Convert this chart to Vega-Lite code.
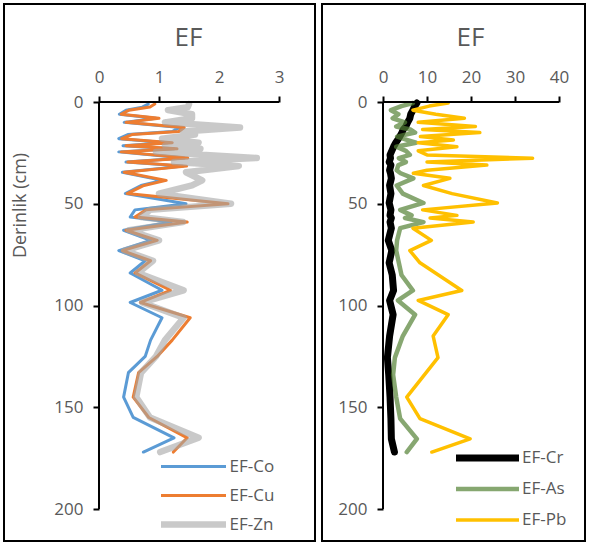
{
  "$schema": "https://vega.github.io/schema/vega-lite/v6.json",
  "background": "white",
  "padding": {"left": 3, "top": 3, "right": 0, "bottom": 0},
  "spacing": 5,
  "config": {
    "font": "Open Sans",
    "view": {"stroke": "black", "strokeWidth": 2},
    "axis": {"grid": false, "domain": false, "tickColor": "black", "tickWidth": 2, "tickSize": 6, "labelFont": "Open Sans", "labelFontSize": 17, "labelColor": "#595959", "labelPadding": 10, "format": "d"},
    "legend": {"labelFont": "Open Sans", "labelFontSize": 17, "labelColor": "#595959", "symbolType": "stroke", "padding": 0, "title": null, "orient": "none"},
    "title": {"font": "Open Sans", "fontSize": 26, "fontWeight": "normal", "color": "#595959", "anchor": "middle", "frame": "group", "offset": -47}
  },
  "datasets": {
    "left": [
      {"depth": 1, "EF-Co": 0.82, "EF-Cu": 0.93, "EF-Zn": 1.5},
      {"depth": 2.5, "EF-Co": 0.72, "EF-Cu": 0.85, "EF-Zn": 1.48},
      {"depth": 4, "EF-Co": 0.45, "EF-Cu": 0.5, "EF-Zn": 1.15},
      {"depth": 6, "EF-Co": 0.34, "EF-Cu": 0.37, "EF-Zn": 1.55},
      {"depth": 8, "EF-Co": 0.95, "EF-Cu": 1.0, "EF-Zn": 1.55},
      {"depth": 10, "EF-Co": 0.42, "EF-Cu": 0.45, "EF-Zn": 1.1},
      {"depth": 12.5, "EF-Co": 1.35, "EF-Cu": 1.42, "EF-Zn": 2.35},
      {"depth": 14.5, "EF-Co": 1.22, "EF-Cu": 1.33, "EF-Zn": 1.4},
      {"depth": 16, "EF-Co": 0.48, "EF-Cu": 0.55, "EF-Zn": 1.6},
      {"depth": 18, "EF-Co": 0.33, "EF-Cu": 0.38, "EF-Zn": 1.05},
      {"depth": 20, "EF-Co": 1.15, "EF-Cu": 1.22, "EF-Zn": 1.66},
      {"depth": 21.5, "EF-Co": 0.4, "EF-Cu": 0.45, "EF-Zn": 1.1},
      {"depth": 23, "EF-Co": 1.25, "EF-Cu": 1.3, "EF-Zn": 1.69},
      {"depth": 24.5, "EF-Co": 0.33, "EF-Cu": 0.37, "EF-Zn": 0.95},
      {"depth": 27.5, "EF-Co": 1.42, "EF-Cu": 1.48, "EF-Zn": 2.63},
      {"depth": 29.5, "EF-Co": 0.45, "EF-Cu": 0.48, "EF-Zn": 1.25},
      {"depth": 31.5, "EF-Co": 1.4, "EF-Cu": 1.46, "EF-Zn": 2.33},
      {"depth": 34.5, "EF-Co": 0.39, "EF-Cu": 0.42, "EF-Zn": 1.45},
      {"depth": 38.5, "EF-Co": 1.05, "EF-Cu": 1.12, "EF-Zn": 1.72},
      {"depth": 41, "EF-Co": 0.7, "EF-Cu": 0.75, "EF-Zn": 1.55},
      {"depth": 45, "EF-Co": 0.44, "EF-Cu": 0.47, "EF-Zn": 1.0},
      {"depth": 50, "EF-Co": 1.45, "EF-Cu": 2.15, "EF-Zn": 2.2},
      {"depth": 53, "EF-Co": 0.6, "EF-Cu": 0.78, "EF-Zn": 0.85},
      {"depth": 56.5, "EF-Co": 0.52, "EF-Cu": 0.6, "EF-Zn": 0.7},
      {"depth": 59, "EF-Co": 1.2, "EF-Cu": 1.47, "EF-Zn": 1.4},
      {"depth": 63, "EF-Co": 0.41, "EF-Cu": 0.45, "EF-Zn": 0.5},
      {"depth": 68, "EF-Co": 0.86, "EF-Cu": 0.97, "EF-Zn": 1.0},
      {"depth": 73, "EF-Co": 0.33, "EF-Cu": 0.39, "EF-Zn": 0.42},
      {"depth": 78, "EF-Co": 0.77, "EF-Cu": 0.86, "EF-Zn": 0.9},
      {"depth": 84, "EF-Co": 0.52, "EF-Cu": 0.6, "EF-Zn": 0.65},
      {"depth": 92.5, "EF-Co": 1.05, "EF-Cu": 1.19, "EF-Zn": 1.41},
      {"depth": 98.5, "EF-Co": 0.52, "EF-Cu": 0.69, "EF-Zn": 0.72},
      {"depth": 106, "EF-Co": 1.05, "EF-Cu": 1.52, "EF-Zn": 1.41},
      {"depth": 117, "EF-Co": 0.86, "EF-Cu": 1.22, "EF-Zn": 1.1},
      {"depth": 125, "EF-Co": 0.77, "EF-Cu": 0.97, "EF-Zn": 0.95},
      {"depth": 133, "EF-Co": 0.49, "EF-Cu": 0.66, "EF-Zn": 0.7},
      {"depth": 145, "EF-Co": 0.41, "EF-Cu": 0.57, "EF-Zn": 0.62},
      {"depth": 155, "EF-Co": 0.57, "EF-Cu": 0.83, "EF-Zn": 0.85},
      {"depth": 165, "EF-Co": 1.25, "EF-Cu": 1.47, "EF-Zn": 1.66},
      {"depth": 172, "EF-Co": 0.74, "EF-Cu": 1.24, "EF-Zn": 1.02}
    ],
    "right": [
      {"depth": 0.5, "EF-Cr": 7.7, "EF-As": 6.8, "EF-Pb": 14.8},
      {"depth": 2, "EF-Cr": 7.2, "EF-As": 4.2, "EF-Pb": 10.5},
      {"depth": 4, "EF-Cr": 6.8, "EF-As": 1.8, "EF-Pb": 6.8},
      {"depth": 6, "EF-Cr": 6.3, "EF-As": 3.5, "EF-Pb": 12.0},
      {"depth": 8, "EF-Cr": 6.1, "EF-As": 2.2, "EF-Pb": 18.5},
      {"depth": 10, "EF-Cr": 5.6, "EF-As": 5.0, "EF-Pb": 8.0},
      {"depth": 12, "EF-Cr": 5.2, "EF-As": 3.0, "EF-Pb": 21.0},
      {"depth": 13.5, "EF-Cr": 4.6, "EF-As": 6.2, "EF-Pb": 9.0},
      {"depth": 15, "EF-Cr": 4.3, "EF-As": 7.3, "EF-Pb": 22.0},
      {"depth": 17, "EF-Cr": 3.8, "EF-As": 3.2, "EF-Pb": 8.5},
      {"depth": 18.7, "EF-Cr": 3.3, "EF-As": 5.6, "EF-Pb": 16.0},
      {"depth": 20, "EF-Cr": 2.9, "EF-As": 7.5, "EF-Pb": 8.0},
      {"depth": 22, "EF-Cr": 2.4, "EF-As": 3.0, "EF-Pb": 16.8},
      {"depth": 24, "EF-Cr": 2.0, "EF-As": 5.2, "EF-Pb": 8.0},
      {"depth": 26, "EF-Cr": 1.6, "EF-As": 6.1, "EF-Pb": 10.0},
      {"depth": 27.6, "EF-Cr": 1.7, "EF-As": 3.6, "EF-Pb": 34.0},
      {"depth": 29.5, "EF-Cr": 1.4, "EF-As": 5.2, "EF-Pb": 10.0},
      {"depth": 31, "EF-Cr": 1.8, "EF-As": 3.5, "EF-Pb": 23.6},
      {"depth": 33.5, "EF-Cr": 1.5, "EF-As": 3.1, "EF-Pb": 10.0},
      {"depth": 35, "EF-Cr": 1.7, "EF-As": 4.0, "EF-Pb": 6.9},
      {"depth": 37.5, "EF-Cr": 1.9, "EF-As": 6.9, "EF-Pb": 15.2},
      {"depth": 41, "EF-Cr": 1.5, "EF-As": 3.1, "EF-Pb": 9.2},
      {"depth": 45, "EF-Cr": 1.8, "EF-As": 4.5, "EF-Pb": 15.7},
      {"depth": 49.6, "EF-Cr": 1.4, "EF-As": 9.2, "EF-Pb": 26.0},
      {"depth": 53, "EF-Cr": 1.8, "EF-As": 3.9, "EF-Pb": 9.0},
      {"depth": 55.7, "EF-Cr": 1.6, "EF-As": 6.5, "EF-Pb": 16.8},
      {"depth": 57, "EF-Cr": 1.9, "EF-As": 5.0, "EF-Pb": 10.7},
      {"depth": 59, "EF-Cr": 1.6, "EF-As": 9.2, "EF-Pb": 20.5},
      {"depth": 62, "EF-Cr": 1.9, "EF-As": 3.9, "EF-Pb": 6.8},
      {"depth": 68, "EF-Cr": 1.2, "EF-As": 3.2, "EF-Pb": 11.0},
      {"depth": 73, "EF-Cr": 2.0, "EF-As": 3.0, "EF-Pb": 6.1},
      {"depth": 79, "EF-Cr": 1.4, "EF-As": 3.6, "EF-Pb": 8.4},
      {"depth": 85, "EF-Cr": 2.1, "EF-As": 4.2, "EF-Pb": null},
      {"depth": 92.6, "EF-Cr": 2.4, "EF-As": 6.8, "EF-Pb": 17.9},
      {"depth": 97.5, "EF-Cr": 1.5, "EF-As": 3.4, "EF-Pb": 8.0},
      {"depth": 104.5, "EF-Cr": 2.3, "EF-As": 7.3, "EF-Pb": 14.8},
      {"depth": 115, "EF-Cr": 1.5, "EF-As": 4.5, "EF-Pb": 11.4},
      {"depth": 125.6, "EF-Cr": 1.0, "EF-As": 2.7, "EF-Pb": 12.5},
      {"depth": 134, "EF-Cr": 1.3, "EF-As": 2.3, "EF-Pb": null},
      {"depth": 145, "EF-Cr": 1.6, "EF-As": 3.0, "EF-Pb": 5.4},
      {"depth": 155.6, "EF-Cr": 1.8, "EF-As": 3.9, "EF-Pb": 8.4},
      {"depth": 165.5, "EF-Cr": 1.9, "EF-As": 7.7, "EF-Pb": 19.8},
      {"depth": 172, "EF-Cr": 2.6, "EF-As": 5.4, "EF-Pb": 11.1}
    ]
  },
  "resolve": {"scale": {"color": "independent", "x": "independent", "y": "independent"}, "legend": {"color": "independent"}},
  "hconcat": [
    {
      "width": 311,
      "height": 537,
      "title": {"text": "EF", "dx": 29},
      "layer": [
        {
          "data": {"name": "left"},
          "transform": [
            {"fold": ["EF-Co", "EF-Cu", "EF-Zn"], "as": ["series", "value"]},
            {"filter": "datum.value != null"}
          ],
          "mark": {"type": "line", "strokeJoin": "round", "strokeCap": "round"},
          "encoding": {
            "x": {"field": "value", "type": "quantitative", "scale": {"domain": [-1.5833, 3.6], "nice": false, "zero": false},
                  "axis": {"orient": "top", "offset": -98, "values": [0, 1, 2, 3], "title": null}},
            "y": {"field": "depth", "type": "quantitative", "scale": {"domain": [-48.16, 215.7], "nice": false, "zero": false, "reverse": true},
                  "axis": {"orient": "left", "offset": -95, "values": [0, 50, 100, 150, 200], "title": "Derinlik (cm)",
                           "titleFont": "Open Sans", "titleFontSize": 18, "titleFontWeight": "normal", "titleColor": "#595959",
                           "titleX": -79, "titleY": 201, "titleAngle": -90, "titleAlign": "center", "titleBaseline": "middle"}},
            "order": {"field": "depth", "type": "quantitative"},
            "color": {"field": "series", "type": "nominal",
                      "scale": {"domain": ["EF-Co", "EF-Cu", "EF-Zn"], "range": ["#5B9BD5", "#ED7D31", "#A5A5A5"]},
                      "legend": {"legendX": 155.5, "legendY": 449, "clipHeight": 27, "rowPadding": 2, "labelOffset": 2, "symbolSize": 4225,
                                 "symbolStrokeWidth": {"expr": "(datum.value === 'EF-Zn' ? 6.5 : 3)"},
                                 "symbolOpacity": {"expr": "(datum.value === 'EF-Zn' ? 0.6 : 1)"}}},
            "strokeWidth": {"condition": {"test": "datum.series === 'EF-Zn'", "value": 6.5}, "value": 3},
            "opacity": {"condition": {"test": "datum.series === 'EF-Zn'", "value": 0.6}, "value": 1}
          }
        },
        {
          "data": {"values": [{}]},
          "mark": {"type": "rule", "color": "black", "strokeWidth": 2},
          "encoding": {"x": {"datum": 0}, "x2": {"datum": 3}, "y": {"datum": 0}}
        },
        {
          "data": {"values": [{}]},
          "mark": {"type": "rule", "color": "black", "strokeWidth": 2},
          "encoding": {"x": {"datum": 0}, "y": {"datum": 0}, "y2": {"datum": 200}}
        }
      ]
    },
    {
      "width": 263,
      "height": 537,
      "title": {"text": "EF", "dx": 17},
      "layer": [
        {
          "data": {"name": "right"},
          "transform": [
            {"fold": ["EF-Cr", "EF-As", "EF-Pb"], "as": ["series", "value"]},
            {"filter": "datum.value != null"}
          ],
          "mark": {"type": "line", "strokeJoin": "round", "strokeCap": "round"},
          "encoding": {
            "x": {"field": "value", "type": "quantitative", "scale": {"domain": [-13.864, 45.909], "nice": false, "zero": false},
                  "axis": {"orient": "top", "offset": -98, "values": [0, 10, 20, 30, 40], "title": null}},
            "y": {"field": "depth", "type": "quantitative", "scale": {"domain": [-48.16, 215.7], "nice": false, "zero": false, "reverse": true},
                  "axis": {"orient": "left", "offset": -61, "values": [0, 50, 100, 150, 200], "title": null}},
            "order": {"field": "depth", "type": "quantitative"},
            "color": {"field": "series", "type": "nominal",
                      "scale": {"domain": ["EF-Cr", "EF-As", "EF-Pb"], "range": ["#000000", "#548235", "#FFC000"]},
                      "legend": {"legendX": 132, "legendY": 440, "clipHeight": 28, "rowPadding": 3, "labelOffset": 1, "symbolSize": 3969,
                                 "symbolStrokeWidth": {"expr": "(datum.value === 'EF-Cr' ? 7 : datum.value === 'EF-As' ? 4.5 : 3.5)"},
                                 "symbolOpacity": {"expr": "(datum.value === 'EF-As' ? 0.7 : 1)"}}},
            "strokeWidth": {"condition": [{"test": "datum.series === 'EF-Cr'", "value": 7}, {"test": "datum.series === 'EF-As'", "value": 4.5}], "value": 3.5},
            "opacity": {"condition": {"test": "datum.series === 'EF-As'", "value": 0.7}, "value": 1}
          }
        },
        {
          "data": {"values": [{}]},
          "mark": {"type": "rule", "color": "black", "strokeWidth": 2},
          "encoding": {"x": {"datum": 0}, "x2": {"datum": 40}, "y": {"datum": 0}}
        },
        {
          "data": {"values": [{}]},
          "mark": {"type": "rule", "color": "black", "strokeWidth": 2},
          "encoding": {"x": {"datum": 0}, "y": {"datum": 0}, "y2": {"datum": 200}}
        }
      ]
    }
  ]
}
